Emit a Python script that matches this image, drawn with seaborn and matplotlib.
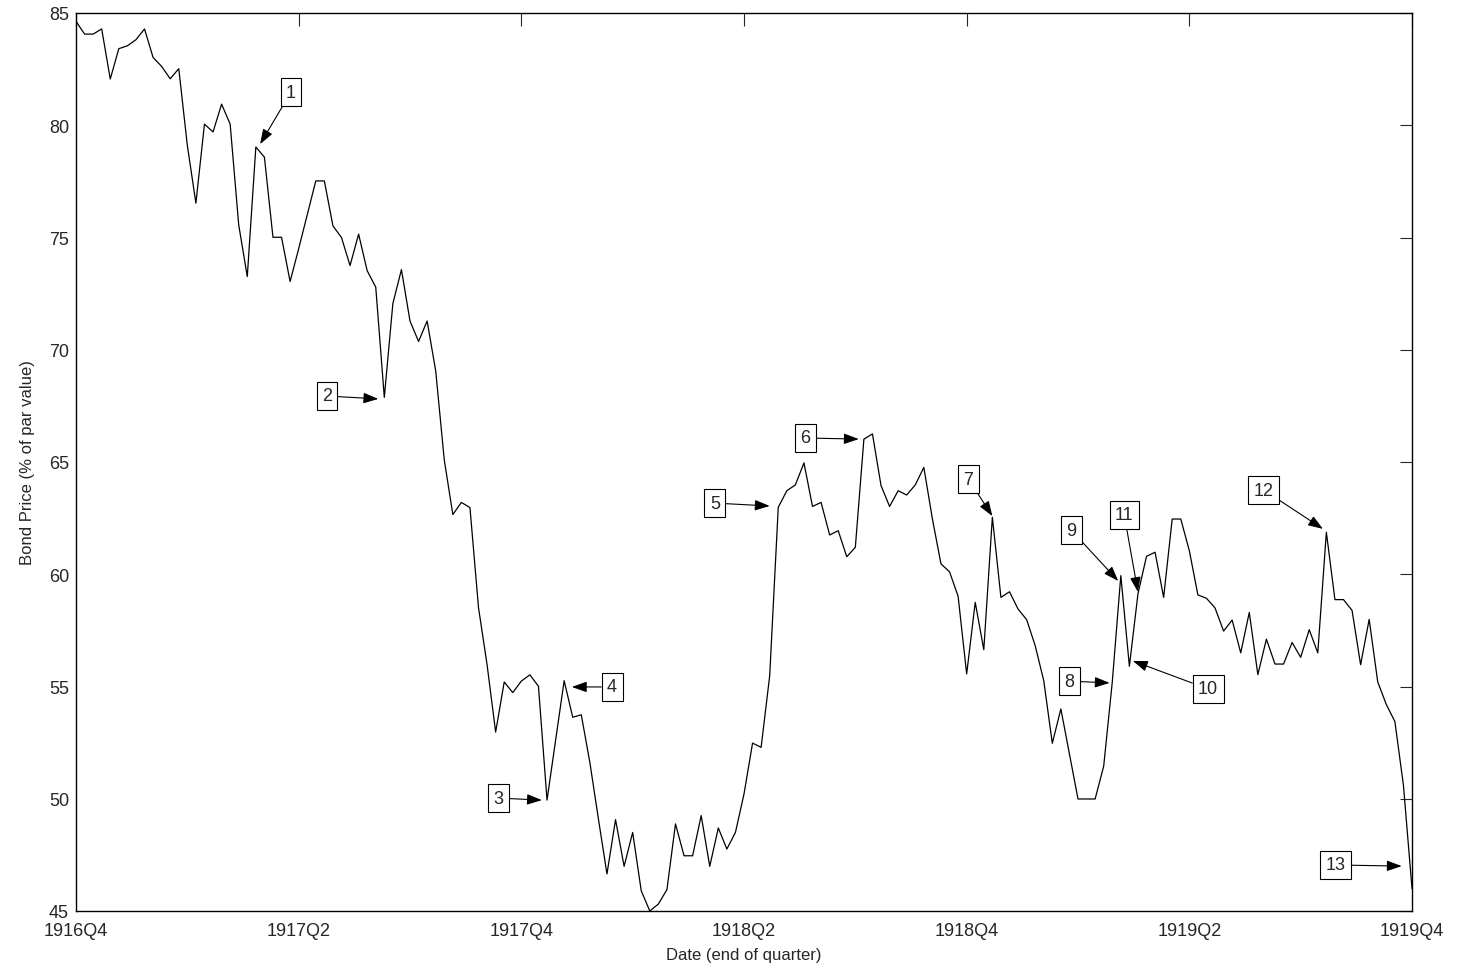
import numpy as np
import pandas as pd
import matplotlib
matplotlib.use("Agg")
import matplotlib.pyplot as plt
import seaborn as sns

# weekly bond price, 1916Q4 .. 1919Q4 (157 observations)
week = np.arange(157)
price = [
    84.63, 84.06, 84.06, 84.29, 82.06, 83.41, 83.54, 83.81, 84.29, 83.02,
    82.62, 82.07, 82.52, 79.10, 76.53, 80.05, 79.70, 80.94, 80.05, 75.56,
    73.26, 79.03, 78.58, 75.01, 75.01, 73.04, 74.50, 76.00, 77.52, 77.52,
    75.52, 75.00, 73.75, 75.15, 73.52, 72.79, 67.88, 72.06, 73.57, 71.28,
    70.37, 71.28, 69.06, 65.10, 62.66, 63.20, 62.97, 58.51, 55.97, 52.97,
    55.20, 54.73, 55.24, 55.52, 55.01, 49.94, 52.59, 55.26, 53.63, 53.74,
    51.62, 49.10, 46.65, 49.07, 46.99, 48.50, 45.90, 45.00, 45.31, 45.95,
    48.88, 47.46, 47.46, 49.25, 46.99, 48.70, 47.76, 48.50, 50.21, 52.48,
    52.29, 55.48, 62.98, 63.72, 63.98, 64.96, 63.02, 63.20, 61.75, 61.94,
    60.78, 61.20, 66.02, 66.25, 63.95, 63.02, 63.72, 63.53, 63.98, 64.76,
    62.46, 60.46, 60.11, 59.02, 55.56, 58.75, 56.64, 62.54, 58.97, 59.22,
    58.45, 57.98, 56.82, 55.26, 52.47, 54.00, 51.99, 49.99, 49.99, 49.99,
    51.45, 55.19, 59.94, 55.90, 59.12, 60.80, 60.98, 58.97, 62.46, 62.46,
    61.05, 59.08, 58.93, 58.50, 57.47, 57.96, 56.50, 58.30, 55.53, 57.11,
    56.00, 56.00, 56.96, 56.30, 57.53, 56.50, 61.87, 58.87, 58.87, 58.39,
    55.97, 57.99, 55.20, 54.20, 53.44, 50.60, 46.00,
]

tick_pos = [0, 26, 52, 78, 104, 130, 156]
tick_labels = ["1916Q4", "1917Q2", "1917Q4", "1918Q2", "1918Q4", "1919Q2", "1919Q4"]

# event markers: label, box centre (week, price), arrow tip (week, price)
ann_labels = ["1", "2", "3", "4", "5", "6", "7", "8", "9", "10", "11", "12", "13"]
ann_text_xy = [(25.1, 81.48), (29.3, 67.94), (49.3, 50.03), (62.6, 54.98),
               (74.6, 63.17), (85.2, 66.07), (104.2, 64.24), (116.0, 55.24),
               (116.2, 61.97), (132.2, 54.89), (122.4, 62.64), (138.7, 63.75),
               (147.1, 47.05)]
ann_tip_xy = [(21.5, 79.16), (35.3, 67.81), (54.4, 49.94), (57.9, 54.98),
              (81.0, 63.04), (91.4, 66.02), (107.0, 62.59), (120.7, 55.16),
              (121.7, 59.70), (123.4, 56.14), (124.0, 59.21), (145.6, 62.02),
              (154.8, 47.00)]

df = pd.DataFrame({"week": week, "price": price})

sns.set_style("white")
plt.rcParams["font.family"] = ["Liberation Sans", "DejaVu Sans"]
plt.rcParams["xtick.direction"] = "in"
plt.rcParams["ytick.direction"] = "in"

fig = plt.figure(figsize=(14.59, 9.70), dpi=100)
ax = fig.add_axes([76 / 1459, 1 - 912 / 970, 1336 / 1459, 898 / 970])

sns.lineplot(data=df, x="week", y="price", ax=ax, color="black", linewidth=0.9)

for lab, txy, pxy in zip(ann_labels, ann_text_xy, ann_tip_xy):
    ax.annotate(lab, xy=pxy, xytext=txy, ha="center", va="center", fontsize=13,
                bbox=dict(boxstyle="square,pad=0.3", fc="white", ec="black", lw=0.8),
                arrowprops=dict(arrowstyle="-|>,head_length=0.7,head_width=0.25",
                                color="black", lw=0.8, shrinkA=0, shrinkB=0))

ax.set_xlim(0, 156)
ax.set_ylim(45, 85)
ax.set_xticks(tick_pos)
ax.set_xticklabels(tick_labels)
ax.set_yticks(np.arange(45, 86, 5))
ax.tick_params(axis="both", labelsize=13, length=9, width=0.8, top=True, right=True)
ax.tick_params(axis="x", pad=8)
ax.tick_params(axis="y", pad=5)
for sp in ax.spines.values():
    sp.set_visible(True)
    sp.set_linewidth(1.0)
    sp.set_color("black")

ax.set_xlabel("Date (end of quarter)", fontsize=12, labelpad=6)
ax.set_ylabel("Bond Price (% of par value)", fontsize=12, labelpad=10)

fig.savefig("out.png", dpi=100)
plt.close(fig)
